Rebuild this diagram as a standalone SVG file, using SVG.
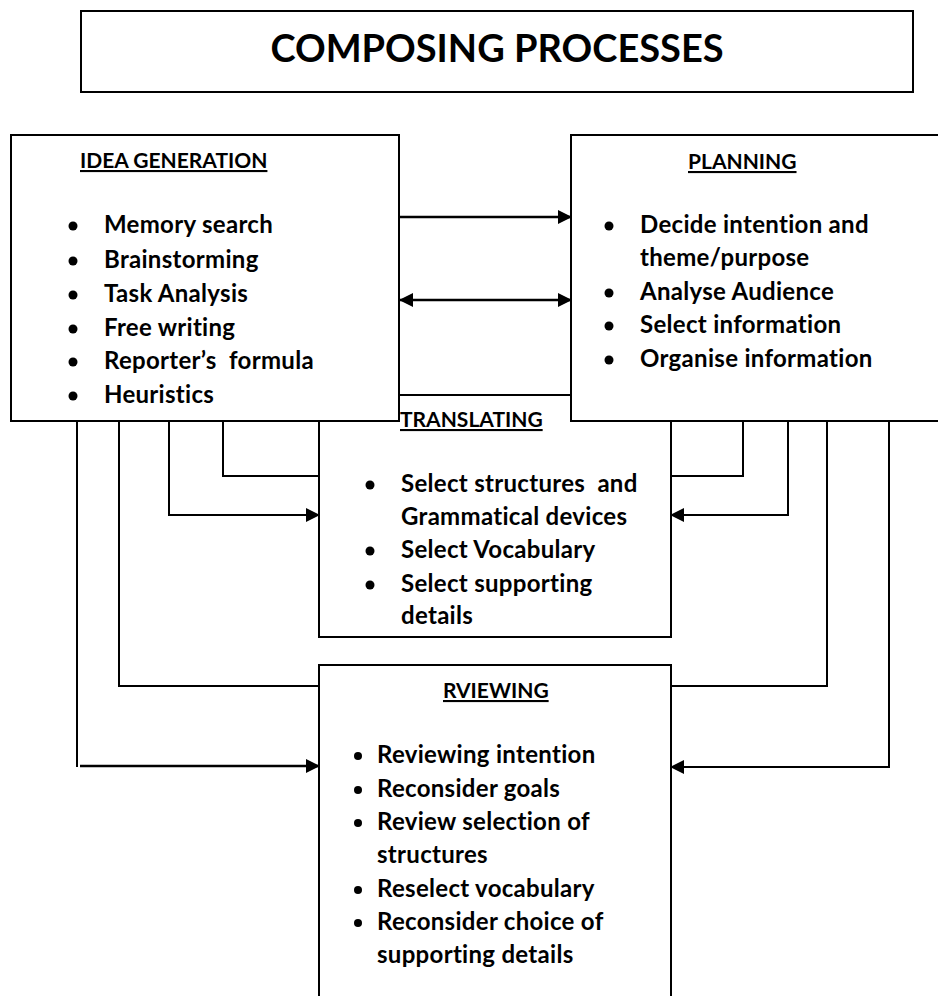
<svg xmlns="http://www.w3.org/2000/svg" width="938" height="996" viewBox="0 0 938 996">
<style>
  .box { fill: #ffffff; stroke: #000000; stroke-width: 2; }
  .conn { fill: none; stroke: #000000; stroke-width: 2; }
  .arr { fill: none; stroke: #000000; stroke-width: 2.5; }
  text { font-family: Lato, "Liberation Sans", sans-serif; font-weight: bold; fill: #000; font-variant-ligatures: none; }
  .title { font-size: 38px; }
  .head { font-size: 21px; text-decoration: underline; }
  .item { font-size: 24px; letter-spacing: 0.3px; }
  .bul { fill: #000; }
</style>
<defs>
  <marker id="ah" viewBox="0 0 14 14" refX="13" refY="7" markerWidth="14" markerHeight="14" markerUnits="userSpaceOnUse" orient="auto-start-reverse">
    <path d="M0,0 L14,7 L0,14 Z" fill="#000"/>
  </marker>
</defs>
<rect width="938" height="996" fill="#ffffff"/>

<g id="title">
  <rect class="box" x="81" y="11" width="832" height="81"/>
  <text class="title" x="497" y="62" text-anchor="middle">COMPOSING PROCESSES</text>
</g>

<g id="translating">
  <rect class="box" x="319" y="395" width="352" height="242"/>
  <text class="head" x="400" y="427">TRANSLATING</text>
  <circle class="bul" cx="370" cy="485" r="4.5"/>
  <circle class="bul" cx="370" cy="551" r="4.5"/>
  <circle class="bul" cx="370" cy="585" r="4.5"/>
  <text class="item" x="401" y="492" xml:space="preserve">Select structures  and</text>
  <text class="item" x="401" y="525">Grammatical devices</text>
  <text class="item" x="401" y="558">Select Vocabulary</text>
  <text class="item" x="401" y="592">Select supporting</text>
  <text class="item" x="401" y="624">details</text>
</g>

<g id="idea-generation">
  <rect class="box" x="11" y="135" width="388" height="286"/>
  <text class="head" x="80" y="168">IDEA GENERATION</text>
  <circle class="bul" cx="73" cy="226" r="4.5"/>
  <circle class="bul" cx="73" cy="261" r="4.5"/>
  <circle class="bul" cx="73" cy="295" r="4.5"/>
  <circle class="bul" cx="73" cy="329" r="4.5"/>
  <circle class="bul" cx="73" cy="362" r="4.5"/>
  <circle class="bul" cx="73" cy="396" r="4.5"/>
  <text class="item" x="104" y="233">Memory search</text>
  <text class="item" x="104" y="268">Brainstorming</text>
  <text class="item" x="104" y="302">Task Analysis</text>
  <text class="item" x="104" y="336">Free writing</text>
  <text class="item" x="104" y="369" xml:space="preserve">Reporter’s  formula</text>
  <text class="item" x="104" y="403">Heuristics</text>
</g>

<g id="planning">
  <rect class="box" x="571" y="135" width="400" height="286"/>
  <text class="head" x="688" y="169">PLANNING</text>
  <circle class="bul" cx="609" cy="226" r="4.5"/>
  <circle class="bul" cx="609" cy="293" r="4.5"/>
  <circle class="bul" cx="609" cy="326" r="4.5"/>
  <circle class="bul" cx="609" cy="360" r="4.5"/>
  <text class="item" x="640" y="233">Decide intention and</text>
  <text class="item" x="640" y="266">theme/purpose</text>
  <text class="item" x="640" y="300">Analyse Audience</text>
  <text class="item" x="640" y="333">Select information</text>
  <text class="item" x="640" y="367">Organise information</text>
</g>

<g id="reviewing">
  <path d="M319,996 L319,665 L671,665 L671,996 Z" fill="#ffffff" stroke="none"/>
  <path class="conn" d="M319,996 L319,665 L671,665 L671,996"/>
  <text class="head" x="443" y="698">RVIEWING</text>
  <circle class="bul" cx="358" cy="756" r="4"/>
  <circle class="bul" cx="358" cy="790" r="4"/>
  <circle class="bul" cx="358" cy="823" r="4"/>
  <circle class="bul" cx="358" cy="890" r="4"/>
  <circle class="bul" cx="358" cy="923" r="4"/>
  <text class="item" x="377" y="763">Reviewing intention</text>
  <text class="item" x="377" y="797">Reconsider goals</text>
  <text class="item" x="377" y="830">Review selection of</text>
  <text class="item" x="377" y="863">structures</text>
  <text class="item" x="377" y="897">Reselect vocabulary</text>
  <text class="item" x="377" y="930">Reconsider choice of</text>
  <text class="item" x="377" y="963">supporting details</text>
</g>

<g id="connectors">
  <line class="arr" x1="400" y1="217" x2="571" y2="217" marker-end="url(#ah)"/>
  <line class="arr" x1="400" y1="300" x2="571" y2="300" marker-start="url(#ah)" marker-end="url(#ah)"/>
  <polyline class="conn" points="223,421 223,476 319,476"/>
  <polyline class="conn" points="169,421 169,515 319,515" marker-end="url(#ah)"/>
  <polyline class="conn" points="119,421 119,686 319,686"/>
  <polyline class="conn" points="77,421 77,767"/>
  <line class="arr" x1="80" y1="766" x2="319" y2="766" marker-end="url(#ah)"/>
  <polyline class="conn" points="743,421 743,476 671,476"/>
  <polyline class="conn" points="788,421 788,515 671,515" marker-end="url(#ah)"/>
  <polyline class="conn" points="827,421 827,686 671,686"/>
  <polyline class="conn" points="889,421 889,767 671,767" marker-end="url(#ah)"/>
</g>
</svg>
